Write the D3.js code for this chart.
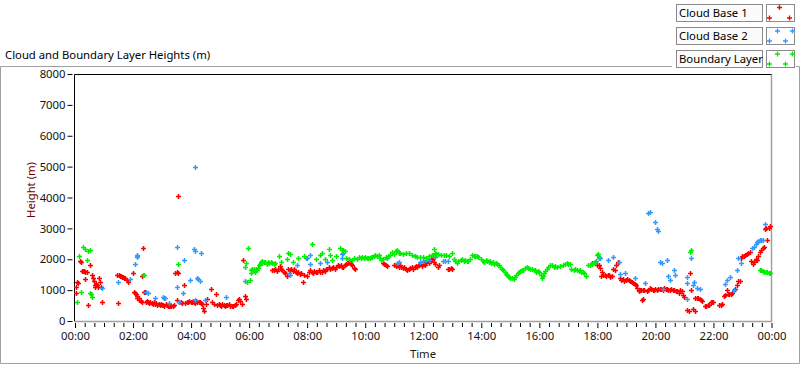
<!DOCTYPE html>
<html><head><meta charset="utf-8">
<script src="https://cdn.jsdelivr.net/npm/d3@7"></script>
<style>
body{margin:0;background:#fff;}
svg{display:block;font-family:"Noto Sans",sans-serif;}
</style>
</head><body>
<svg id="c" width="800" height="365"></svg>
<script>
const chartTitle = "Cloud and Boundary Layer Heights (m)";
const seriesNames = ["Cloud Base 1", "Cloud Base 2", "Boundary Layer"];
const seriesColors = ["#ff0000", "#3399ff", "#00ee00"];
const yTicks = [0, 1000, 2000, 3000, 4000, 5000, 6000, 7000, 8000];
const xTickHours = [0, 2, 4, 6, 8, 10, 12, 14, 16, 18, 20, 22, 24];
const xTickLabels = ["00:00","02:00","04:00","06:00","08:00","10:00","12:00","14:00","16:00","18:00","20:00","22:00","00:00"];

// [hour, height m]
const cloudBase1 = [
[0.03,1100],[0.05,900],[0.08,1250],[0.12,1240],[0.18,1930],[0.21,1920],[0.25,1620],[0.28,1630],[0.32,1610],[0.36,1600],[0.4,1590],[0.33,1350],[0.46,520],[0.5,1800],[0.58,1480],[0.62,1400],[0.65,1300],[0.68,1180],[0.7,1110],[0.74,1200],[0.77,1150],[0.8,1100],[0.83,1380],[0.86,1250],[0.88,1110],[0.92,600],
[1.47,570],[1.45,1480],[1.5,1480],[1.55,1460],[1.6,1450],[1.63,1440],[1.66,1420],[1.7,1400],[1.74,1380],[1.78,1330],[1.82,1250],[2.0,1560],[2.02,950],[2.06,920],[2.09,880],[2.12,800],[2.15,760],[2.19,740],[2.22,690],[2.26,660],[2.3,620],[2.31,1450],[2.35,2350],[2.38,930],[2.42,930],[2.44,620],[2.48,640],[2.52,600],[2.56,590],[2.6,620],[2.64,580],[2.68,560],[2.72,600],[2.76,550],[2.8,570],[2.84,530],[2.88,550],[2.92,520],[2.96,540],[3.0,510],[3.04,530],[3.08,500],[3.12,540],[3.16,520],[3.2,490],[3.24,500],[3.28,470],[3.32,490],[3.36,480],[3.4,520],[3.45,1560],[3.5,1580],[3.55,1560],[3.52,680],[3.54,4040],[3.6,620],[3.64,600],[3.7,590],[3.75,1160],[3.8,590],[3.85,630],[3.9,600],[3.94,640],[3.98,620],[4.02,600],[4.06,650],[4.1,620],[4.14,590],[4.18,640],[4.22,610],[4.26,600],[4.3,630],[4.34,580],[4.38,540],[4.42,410],[4.45,340],[4.5,560],[4.55,700],[4.67,1050],[4.72,600],[4.8,540],[4.85,880],[4.9,520],[4.95,540],[5.0,520],[5.04,500],[5.08,540],[5.12,520],[5.16,500],[5.2,530],[5.25,510],[5.3,540],[5.35,500],[5.4,470],[5.45,490],[5.5,520],[5.55,560],[5.6,680],[5.65,700],[5.7,650],[5.75,560],[5.8,1970],[5.85,800],[5.88,700],
[6.8,1650],[6.85,1640],[6.9,1680],[6.95,1620],[7.0,1700],[7.05,1780],[7.1,1690],[7.15,1640],[7.2,1600],[7.25,1550],[7.3,1460],[7.35,1700],[7.4,1650],[7.45,1700],[7.5,1620],[7.55,1700],[7.6,1580],[7.65,1550],[7.7,1600],[7.75,1520],[7.8,1560],[7.85,1270],[7.9,1480],[8.0,1450],[8.05,1600],[8.1,1640],[8.15,1600],[8.2,1550],[8.25,1620],[8.3,1580],[8.35,1600],[8.4,1650],[8.45,1600],[8.5,1580],[8.55,1640],[8.6,1610],[8.65,1700],[8.7,1680],[8.74,1760],[8.8,1700],[8.85,1720],[8.9,1750],[8.95,1700],[9.0,1760],[9.05,1800],[9.1,1780],[9.15,1820],[9.2,1760],[9.25,1740],[9.3,1800],[9.35,1850],[9.4,1880],[9.45,1930],[9.5,1850],[9.55,1800],[9.6,1720],[9.66,1700],
[10.6,1880],[10.65,1850],[10.7,1800],[10.75,1780],[11.0,1820],[11.05,1790],[11.1,1800],[11.15,1760],[11.2,1800],[11.25,1760],[11.3,1720],[11.35,1750],[11.4,1680],[11.45,1660],[11.5,1700],[11.55,1720],[11.6,1760],[11.65,1700],[11.7,1740],[11.75,1780],[11.8,1740],[11.85,1800],[11.9,1830],[11.95,1780],[12.0,1860],[12.05,1820],[12.1,1900],[12.15,1940],[12.2,1880],[12.25,1960],[12.3,2000],[12.33,2080],[12.38,1900],[12.42,1850],[12.5,1760],[12.55,1800],[12.85,1680],[12.9,1700],[12.95,1720],[13.0,1680],
[17.81,1870],[18.0,1820],[18.04,1800],[18.08,1720],[18.12,1450],[18.15,1600],[18.2,1500],[18.25,1480],[18.3,1470],[18.35,1500],[18.4,1480],[18.45,1440],[18.5,1460],[18.55,1700],[18.6,1650],[18.65,1800],[18.7,1900],[18.78,1380],[18.83,1340],[18.88,1350],[18.93,1300],[18.98,1320],[19.03,1360],[19.08,1330],[19.13,1300],[19.18,1250],[19.23,1240],[19.28,1200],[19.33,1150],[19.38,1060],[19.42,980],[19.47,1000],[19.52,1020],[19.57,1000],[19.62,990],[19.53,680],[19.56,700],[19.7,980],[19.75,1010],[19.8,1060],[19.85,1040],[19.9,1000],[19.95,1020],[20.0,1030],[20.05,1000],[20.1,1040],[20.15,1050],[20.2,1030],[20.25,1000],[20.3,1060],[20.35,1040],[20.4,1030],[20.45,1020],[20.5,1000],[20.55,1040],[20.6,1010],[20.65,1000],[20.7,980],[20.75,960],[20.8,900],[20.85,1000],[20.9,960],[20.95,830],[21.0,780],[21.1,370],[21.14,340],[21.19,1540],[21.22,1000],[21.3,380],[21.35,340],[21.38,740],[21.43,730],[21.48,740],[21.52,700],[21.57,680],[21.62,640],[21.7,500],[21.75,470],[21.8,510],[21.85,530],[21.9,600],[21.95,620],[22.0,610],[22.2,520],[22.25,530],[22.3,560],[22.35,820],[22.4,850],[22.45,1000],[22.5,860],[22.55,880],[22.6,860],[22.65,900],[22.7,1000],[22.75,1050],[22.8,1150],[22.85,1280],[22.9,1300],[22.95,2050],[23.0,2100],[23.05,2120],[23.1,2150],[23.15,2180],[23.2,2200],[23.25,2250],[23.3,1950],[23.35,1850],[23.4,1900],[23.45,2000],[23.5,1980],[23.55,2100],[23.6,2240],[23.65,2300],[23.7,2380],[23.75,2400],[23.78,2980],[23.82,3000],[23.86,2620],[23.9,3020],[23.95,3070]
];

const cloudBase2 = [
[0.92,1060],[1.47,1250],[1.89,1350],[2.07,1850],[2.12,2080],[2.15,2130],[2.14,2100],[2.46,930],[2.5,920],[2.74,740],[3.02,790],[3.05,760],[3.09,740],[3.23,570],[3.52,1090],[3.53,2390],[3.6,600],[3.72,900],[3.75,1970],[3.95,1330],[4.11,2330],[4.15,4980],[4.15,2280],[4.15,680],[4.21,1380],[4.25,1350],[4.3,1300],[4.35,2190],[4.49,680],[5.22,770],[5.87,1300],
[7.36,1540],[7.4,1480],[7.65,1810],[7.97,2030],[8.0,2050],[8.11,2140],[8.1,1860],[8.43,1870],[8.7,1900],[9.2,2170],[9.2,2030],[9.25,2200],[10.75,2030],[11.1,1870],[11.15,1900],[11.72,2100],[11.9,1900],[12.0,1950],[12.1,1980],[12.2,1970],[12.35,2140],[12.4,2080],[12.67,1940],[12.75,1940],[12.85,1950],
[17.95,1950],[18.04,2050],[18.1,2030],[18.38,1980],[18.55,2080],[18.73,1920],[18.78,1520],[18.96,1540],[19.3,1380],[19.65,1220],[19.76,3490],[19.82,3540],[19.99,3220],[20.05,2970],[20.1,2930],[20.16,1920],[20.22,1890],[20.27,1050],[20.39,1980],[20.45,1460],[20.5,1330],[20.64,1650],[20.68,1480],[21.08,1410],[21.08,700],[21.1,1220],[21.23,2030],[21.28,1160],[21.33,1250],[21.43,1060],[21.54,1030],[22.4,1200],[22.46,1330],[22.57,1410],[22.7,1000],[22.8,1650],[22.86,2030],[22.94,1870],[23.32,2350],[23.38,2400],[23.45,2480],[23.5,2560],[23.55,2600],[23.6,2610],[23.65,2620],[23.72,2620],[23.78,3140]
];

const boundaryLayer = [
[0.07,600],[0.15,2120],[0.22,930],[0.26,2390],[0.36,2320],[0.42,1970],[0.44,2280],[0.51,2290],[0.53,920],[0.56,880],[0.6,770],
[2.35,1490],[2.38,1480],[3.54,1840],[5.87,1760],[5.89,1870],[5.96,2350],[5.93,1250],[6.02,1330],
[6.05,1560],[6.08,1650],[6.1,1700],[6.13,1620],[6.16,1680],[6.2,1600],[6.23,1700],[6.26,1650],[6.3,1720],[6.33,1800],[6.36,1850],[6.4,1900],[6.43,1880],[6.46,1950],[6.5,1900],[6.55,1920],[6.6,1850],[6.65,1920],[6.7,1880],[6.75,1900],[6.8,1870],[6.85,1850],[6.9,1880],[7.02,2100],[7.1,1920],[7.3,2000],[7.35,2200],[7.4,2180],[7.5,1900],[7.7,2050],[7.9,2100],[8.17,2510],[8.3,2000],[8.45,2150],[8.51,2210],[8.6,2000],[8.74,2320],[8.8,2140],[8.86,1970],[9.0,2100],[9.14,2350],[9.2,2290],[9.25,2300],[9.3,2280],[9.35,2050],[9.45,2000],[9.55,1980],[9.6,2050],[9.72,2000],[9.8,2060],[9.85,2040],[9.9,2080],[9.95,2050],[10.0,2060],[10.05,2030],[10.1,2050],[10.15,2040],[10.2,2060],[10.25,2080],[10.3,2100],[10.35,2150],[10.4,2120],[10.46,2140],[10.5,2050],[10.55,1970],[10.6,2020],[10.7,2060],[10.8,2100],[10.85,2150],[10.92,2240],[11.0,2180],[11.05,2260],[11.1,2300],[11.15,2200],[11.2,2200],[11.3,2180],[11.4,2210],[11.5,2210],[11.6,2150],[11.7,2100],[11.8,2080],[11.9,2060],[12.0,2080],[12.1,2050],[12.2,2100],[12.3,2150],[12.36,2320],[12.4,2200],[12.45,2180],[12.5,2170],[12.6,2130],[12.7,2130],[12.8,2150],[12.9,2100],[12.99,2190],[13.05,2000],[13.1,1950],[13.16,1870],[13.2,1950],[13.3,1970],[13.35,2000],[13.4,1940],[13.45,1970],[13.5,1950],[13.55,1930],[13.6,2000],[13.68,2140],[13.75,2100],[13.8,2120],[13.85,2100],[13.9,2060],[14.0,2000],[14.05,1950],[14.1,1900],[14.15,1960],[14.2,1930],[14.25,1900],[14.3,1950],[14.35,1880],[14.4,1900],[14.45,1860],[14.5,1880],[14.55,1850],[14.6,1800],[14.65,1740],[14.7,1700],[14.75,1660],[14.8,1600],[14.85,1520],[14.88,1490],[14.92,1450],[14.96,1430],[15.0,1400],[15.05,1380],[15.11,1370],[15.15,1420],[15.2,1500],[15.25,1560],[15.3,1600],[15.34,1610],[15.4,1640],[15.45,1660],[15.5,1720],[15.57,1760],[15.62,1720],[15.69,1700],[15.75,1680],[15.8,1650],[15.85,1640],[15.9,1600],[15.95,1620],[16.0,1580],[16.05,1500],[16.09,1380],[16.12,1450],[16.15,1560],[16.2,1620],[16.25,1700],[16.3,1760],[16.37,1820],[16.45,1800],[16.5,1760],[16.55,1780],[16.6,1750],[16.7,1780],[16.8,1820],[16.9,1860],[16.95,1880],[17.0,1860],[17.06,1850],[17.1,1700],[17.18,1650],[17.22,1680],[17.3,1650],[17.35,1620],[17.4,1640],[17.45,1600],[17.5,1580],[17.55,1560],[17.6,1450],[17.69,1800],[17.75,1820],[17.8,1860],[17.85,1880],[17.92,1920],[17.98,2130],[18.01,2170],[18.05,2080],
[21.19,2240],[21.22,2310],[23.6,1650],[23.65,1640],[23.7,1620],[23.75,1600],[23.8,1590],[23.85,1580],[23.9,1560],[23.95,1540]
];

const FS = 11.3;
const svg = d3.select("#c");
const plot = {left: 74.5, right: 772, top: 74.5, bottom: 321.5};

const x = d3.scaleLinear().domain([0, 24]).range([75, 771.5]);
const y = d3.scaleLinear().domain([0, 8000]).range([321, 74]);

// outer frame
svg.append("path")
  .attr("d", `M672,66.5 H0.5 V363.5 H799.5 V66.5 H796`)
  .attr("fill", "none").attr("stroke", "#a0a0a0").attr("stroke-width", 1);

// title
svg.append("text").attr("x", 5).attr("y", 59)
  .attr("font-size", FS).attr("fill", "#000").text(chartTitle);

// plot background and border
svg.append("rect").attr("x", plot.left).attr("y", plot.top)
  .attr("width", plot.right - plot.left).attr("height", plot.bottom - plot.top)
  .attr("fill", "#fff");
svg.append("path").attr("d", `M${plot.left},${plot.bottom} V${plot.top} H${plot.right}`)
  .attr("fill", "none").attr("stroke", "#000").attr("stroke-width", 1);
svg.append("path").attr("d", `M${plot.right - 0.5},${plot.top} V${plot.bottom} H${plot.left}`)
  .attr("fill", "none").attr("stroke", "#a0a0a0").attr("stroke-width", 1.5);

// y axis
const yAxis = d3.axisLeft(y).tickValues(yTicks).tickSize(5).tickPadding(2).tickFormat(d3.format("d"));
const gy = svg.append("g").attr("transform", "translate(72.5,0)").call(yAxis);
gy.select(".domain").remove();
gy.selectAll("line").attr("stroke", "#000");
gy.selectAll("text").attr("font-size", FS).attr("fill", "#111").attr("font-family", '"Noto Sans",sans-serif');

// x axis minor ticks
const minor = d3.range(0, 24 * 3 + 1).map(i => i / 3).filter(v => Math.abs(v / 2 - Math.round(v / 2)) > 1e-6);
const xMinor = d3.axisBottom(x).tickValues(minor).tickSize(4).tickFormat("");
const gxm = svg.append("g").attr("transform", "translate(0,323)").call(xMinor);
gxm.select(".domain").remove();
gxm.selectAll("line").attr("stroke", "#000");

const xAxis = d3.axisBottom(x).tickValues(xTickHours).tickSize(5).tickPadding(4)
  .tickFormat((d, i) => xTickLabels[i]);
const gx = svg.append("g").attr("transform", "translate(0,323)").call(xAxis);
gx.select(".domain").remove();
gx.selectAll("line").attr("stroke", "#000");
gx.selectAll("text").attr("font-size", FS).attr("fill", "#111").attr("font-family", '"Noto Sans",sans-serif');

// axis titles
svg.append("text").attr("transform", "translate(35,190) rotate(-90)")
  .attr("text-anchor", "middle").attr("font-size", FS).attr("fill", "#6b0000").text("Height (m)");
svg.append("text").attr("x", 423).attr("y", 358)
  .attr("text-anchor", "middle").attr("font-size", FS).attr("fill", "#1a1a1a").text("Time");

// markers
const plus = "M-2.5,0H2.5M0,-2.5V2.5";
const allSeries = [cloudBase1, cloudBase2, boundaryLayer];
const gData = svg.append("g");
allSeries.forEach((data, si) => {
  gData.append("g").selectAll("path").data(data).join("path")
    .attr("transform", d => `translate(${Math.round(x(d[0])) + 0.5},${Math.round(y(d[1])) + 0.5})`)
    .attr("d", plus).attr("fill", "none")
    .attr("stroke", seriesColors[si]).attr("stroke-width", 1.5);
});

// legend
const legendMarks = [
  [[12, 3], [2, 13.5], [22, 13.5]],
  [[10, 3.5], [25, 3.5], [2, 13.5], [18, 13.5]],
  [[10, 3.5], [25, 3.5], [2, 13.5], [18, 13.5]]
];
seriesNames.forEach((name, i) => {
  const top = 4.5 + i * 23;
  const g = svg.append("g");
  g.append("rect").attr("x", 676.5).attr("y", top).attr("width", 86).attr("height", 17)
    .attr("fill", "#fbfbfb").attr("stroke", "#8a8a8a");
  g.append("text").attr("x", 679).attr("y", top + 12.5).attr("font-size", FS).attr("fill", "#000").text(name);
  g.append("rect").attr("x", 766.5).attr("y", top).attr("width", 28).attr("height", 17)
    .attr("fill", "#fff").attr("stroke", "#8a8a8a");
  legendMarks[i].forEach(p => {
    g.append("path").attr("transform", `translate(${767.5 + p[0]},${top + p[1]})`)
      .attr("d", plus).attr("fill", "none").attr("stroke", seriesColors[i]).attr("stroke-width", 1.3);
  });
});
</script>
</body></html>
